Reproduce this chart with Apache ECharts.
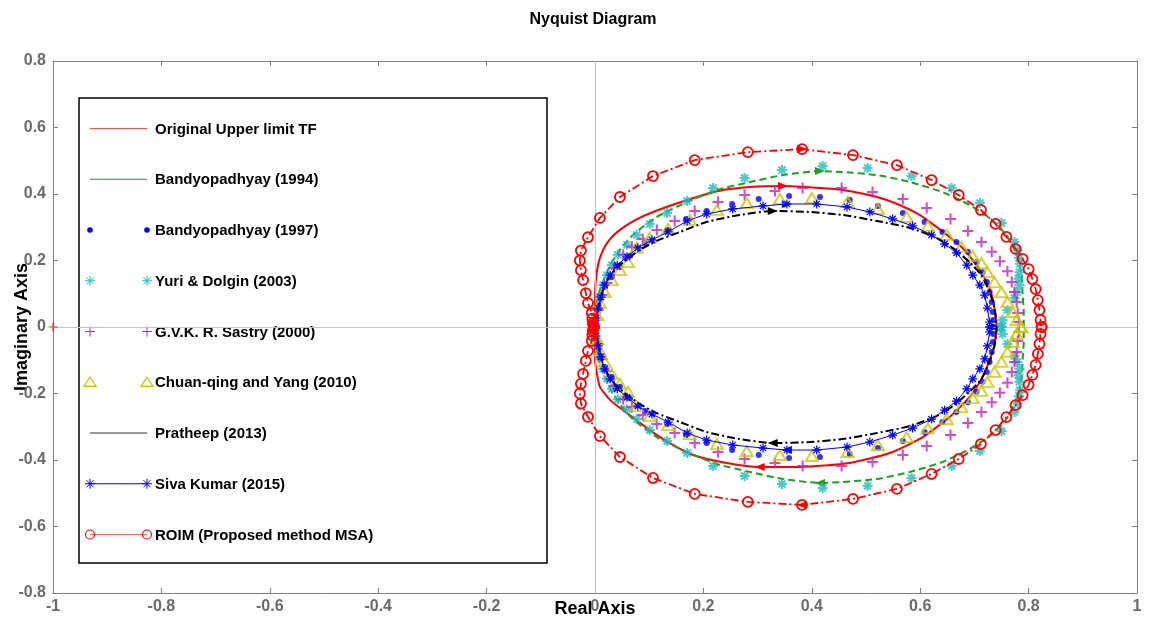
<!DOCTYPE html>
<html>
<head>
<meta charset="utf-8">
<script src="https://cdn.jsdelivr.net/npm/echarts@6/dist/echarts.min.js"></script>
<style>
  html, body { margin: 0; padding: 0; background: #fff; }
  #chart { width: 1151px; height: 628px; }
</style>
</head>
<body>
<div id="chart"></div>
<script>
// Nyquist curves as [real, imag]
// "Upper" = upper half (origin -> DC gain); the lower half is its conjugate
var originalUpper = [[0,0],[0,0.06],[0.001,0.132],[0.006,0.19],[0.015,0.232],[0.028,0.265],[0.046,0.292],[0.075,0.322],[0.107,0.346],[0.17,0.382],[0.23,0.41],[0.286,0.421],[0.347,0.424],[0.415,0.418],[0.457,0.412],[0.52,0.391],[0.562,0.367],[0.599,0.337],[0.63,0.301],[0.654,0.271],[0.678,0.238],[0.704,0.186],[0.723,0.135],[0.732,0.096],[0.737,0.057],[0.741,0]];
var originalLower = [[0,0],[0,-0.054],[0,-0.099],[0.004,-0.144],[0.009,-0.18],[0.028,-0.22],[0.059,-0.259],[0.101,-0.31],[0.138,-0.349],[0.181,-0.385],[0.243,-0.409],[0.304,-0.421],[0.378,-0.421],[0.47,-0.409],[0.544,-0.379],[0.605,-0.331],[0.654,-0.271],[0.691,-0.211],[0.715,-0.15],[0.728,-0.099],[0.737,-0.054],[0.741,0]];
var bandy94Upper = [[0,0],[0,0.036],[0.009,0.111],[0.028,0.186],[0.046,0.232],[0.07,0.277],[0.114,0.331],[0.17,0.376],[0.225,0.412],[0.286,0.436],[0.347,0.457],[0.415,0.469],[0.457,0.466],[0.52,0.457],[0.581,0.436],[0.641,0.406],[0.691,0.367],[0.728,0.328],[0.759,0.277],[0.778,0.217],[0.787,0.156],[0.789,0.096],[0.791,0.045],[0.791,0]];
var bandy97Upper = [[0,0],[0.002,0.027],[0.004,0.051],[0.006,0.072],[0.009,0.09],[0.018,0.12],[0.031,0.15],[0.046,0.18],[0.065,0.214],[0.092,0.253],[0.133,0.292],[0.168,0.325],[0.206,0.349],[0.253,0.37],[0.302,0.385],[0.358,0.394],[0.415,0.391],[0.47,0.382],[0.522,0.364],[0.568,0.343],[0.608,0.316],[0.641,0.286],[0.667,0.256],[0.688,0.226],[0.704,0.195],[0.715,0.165],[0.723,0.135],[0.728,0.105],[0.732,0.075],[0.734,0.045],[0.735,0.021],[0.735,0]];
var yuriUpper = [[0.004,0.051],[0.009,0.09],[0.015,0.126],[0.022,0.156],[0.031,0.186],[0.042,0.217],[0.059,0.247],[0.077,0.277],[0.101,0.31],[0.133,0.343],[0.17,0.379],[0.218,0.418],[0.276,0.448],[0.345,0.472],[0.42,0.484],[0.503,0.478],[0.584,0.454],[0.658,0.418],[0.71,0.373],[0.75,0.313],[0.774,0.256],[0.78,0.23],[0.782,0.208],[0.784,0.19],[0.783,0.165],[0.781,0.145],[0.783,0.126],[0.779,0.105],[0.774,0.087],[0.761,0.051],[0.752,0.021],[0.75,0]];
var sastryUpper = [[0.006,0.051],[0.013,0.096],[0.022,0.132],[0.035,0.177],[0.052,0.217],[0.068,0.241],[0.088,0.265],[0.114,0.292],[0.147,0.319],[0.184,0.349],[0.227,0.376],[0.276,0.397],[0.332,0.409],[0.383,0.418],[0.455,0.418],[0.512,0.406],[0.568,0.385],[0.612,0.358],[0.656,0.325],[0.688,0.289],[0.713,0.256],[0.732,0.226],[0.747,0.198],[0.761,0.168],[0.769,0.135],[0.774,0.105],[0.778,0.075],[0.78,0.042],[0.782,0.015]];
var chuanUpper = [[0.004,0.036],[0.009,0.072],[0.018,0.105],[0.031,0.141],[0.046,0.171],[0.061,0.195],[0.077,0.238],[0.101,0.268],[0.135,0.295],[0.175,0.322],[0.225,0.352],[0.28,0.373],[0.341,0.385],[0.4,0.388],[0.466,0.376],[0.522,0.355],[0.575,0.331],[0.614,0.304],[0.649,0.277],[0.676,0.241],[0.697,0.214],[0.713,0.192],[0.724,0.165],[0.737,0.135],[0.75,0.105],[0.761,0.075],[0.771,0.045],[0.778,0.021],[0.786,0]];
var pratheepUpper = [[0,0],[0.004,0.036],[0.009,0.075],[0.018,0.126],[0.033,0.165],[0.052,0.195],[0.083,0.232],[0.114,0.259],[0.157,0.286],[0.206,0.316],[0.267,0.337],[0.328,0.349],[0.396,0.346],[0.457,0.337],[0.52,0.319],[0.581,0.298],[0.63,0.268],[0.66,0.238],[0.691,0.195],[0.713,0.156],[0.728,0.105],[0.737,0.057],[0.741,0]];
var sivaUpper = [[0,0],[0.002,0.027],[0.006,0.057],[0.011,0.09],[0.018,0.126],[0.028,0.156],[0.041,0.186],[0.059,0.211],[0.079,0.238],[0.105,0.262],[0.135,0.286],[0.17,0.319],[0.206,0.34],[0.254,0.355],[0.31,0.364],[0.354,0.37],[0.409,0.37],[0.465,0.361],[0.507,0.346],[0.549,0.325],[0.586,0.304],[0.621,0.277],[0.645,0.25],[0.667,0.223],[0.686,0.186],[0.697,0.156],[0.71,0.126],[0.719,0.096],[0.724,0.057],[0.728,0.015],[0.728,0]];
var roimUpper = [[-0.002,0],[-0.003,0.006],[-0.004,0.012],[-0.005,0.025],[-0.006,0.042],[-0.013,0.072],[-0.017,0.102],[-0.022,0.141],[-0.026,0.171],[-0.028,0.2],[-0.026,0.23],[-0.013,0.27],[0.009,0.328],[0.046,0.391],[0.107,0.454],[0.184,0.502],[0.282,0.526],[0.382,0.535],[0.476,0.517],[0.557,0.487],[0.621,0.442],[0.671,0.397],[0.712,0.352],[0.739,0.31],[0.759,0.271],[0.776,0.235],[0.789,0.205],[0.8,0.174],[0.807,0.144],[0.813,0.114],[0.817,0.081],[0.82,0.051],[0.822,0.021],[0.824,0]];
var criticalPoint = [[-1, 0]];

var xTicks = { min: -1, max: 1, step: 0.2 };
var yTicks = { min: -0.8, max: 0.8, step: 0.2 };

var names = ['Original Upper limit TF', 'Bandyopadhyay (1994)', 'Bandyopadhyay (1997)',
  'Yuri & Dolgin (2003)', 'G.V.K. R. Sastry (2000)', 'Chuan-qing and Yang (2010)',
  'Pratheep (2013)', 'Siva Kumar (2015)', 'ROIM (Proposed method MSA)'];

// close the loop: upper half, then the conjugate back to the origin
function loop(upper, lower) {
  if (!lower) lower = upper.map(function (p) { return [p[0], -p[1]]; });
  return upper.concat(lower.slice().reverse());
}

// arrows at the top and bottom of a curve
function arrows(upper, lower, color) {
  if (!lower) lower = upper.map(function (p) { return [p[0], -p[1]]; });
  var iu = 0, il = 0;
  upper.forEach(function (p, i) { if (p[1] > upper[iu][1]) iu = i; });
  lower.forEach(function (p, i) { if (p[1] < lower[il][1]) il = i; });
  return {
    symbol: 'triangle', symbolSize: [8, 10], silent: true,
    label: { show: false },
    itemStyle: { color: color },
    data: [
      { coord: upper[iu], symbolRotate: -90 },
      { coord: lower[il], symbolRotate: 90 }
    ]
  };
}

var RED = '#ff0000', GREEN = '#1f9f1f', BLUE = '#0000ff', CYAN = '#1fbdbd',
    MAG = '#c21fc2', YEL = '#c8c800', BLACK = '#000000';
var starPath = 'path://M0,-5L0,5M-5,0L5,0M-3.5,-3.5L3.5,3.5M-3.5,3.5L3.5,-3.5';
var plusPath = 'path://M0,-5L0,5M-5,0L5,0';
var font = 'Liberation Sans, Arial, sans-serif';

var chart = echarts.init(document.getElementById('chart'));

// legend drawn MATLAB-style
var legendEls = [{
  type: 'rect', shape: { x: 79, y: 98, width: 468, height: 465 },
  style: { fill: '#fff', stroke: '#000', lineWidth: 1.5 }
}];
var kinds = [
  { line: '#ff5050' }, { line: GREEN }, { mark: 'dot' }, { mark: 'star', c: CYAN },
  { mark: 'plus', c: MAG }, { mark: 'tri' }, { line: '#333' },
  { line: BLUE, mark: 'star', c: BLUE }, { line: '#ff6060', mark: 'circle' }
];
function legendMarker(kind, x, y) {
  var els = [];
  if (kind.mark === 'dot') {
    els.push({ type: 'circle', shape: { cx: x, cy: y, r: 2.8 }, style: { fill: BLUE } });
  } else if (kind.mark === 'circle') {
    els.push({ type: 'circle', shape: { cx: x, cy: y, r: 4.5 }, style: { fill: 'none', stroke: RED, lineWidth: 1.2 } });
  } else if (kind.mark === 'tri') {
    els.push({ type: 'polygon', shape: { points: [[x, y - 5], [x + 6, y + 4], [x - 6, y + 4]] }, style: { fill: 'none', stroke: YEL, lineWidth: 1.3 } });
  } else if (kind.mark === 'plus' || kind.mark === 'star') {
    var segs = [[0, -5, 0, 5], [-5, 0, 5, 0]];
    if (kind.mark === 'star') segs.push([-3.5, -3.5, 3.5, 3.5], [-3.5, 3.5, 3.5, -3.5]);
    segs.forEach(function (s) {
      els.push({ type: 'line', shape: { x1: x + s[0], y1: y + s[1], x2: x + s[2], y2: y + s[3] }, style: { stroke: kind.c, lineWidth: 1 } });
    });
  }
  return els;
}
names.forEach(function (n, i) {
  var y = 128.5 + i * 50.75;
  var k = kinds[i];
  if (k.line) legendEls.push({ type: 'line', shape: { x1: 90, y1: y, x2: 147, y2: y }, style: { stroke: k.line, lineWidth: 1 } });
  if (k.mark) legendEls = legendEls.concat(legendMarker(k, 90, y), legendMarker(k, 147, y));
  legendEls.push({ type: 'text', x: 155, y: y + 1, style: { text: n, font: 'bold 15px ' + font, fill: '#000', textVerticalAlign: 'middle' } });
});

var axisGray = '#808080';
function xAxisOf(pos, labels) {
  return {
    type: 'value', position: pos, min: xTicks.min, max: xTicks.max, interval: xTicks.step,
    axisLine: { onZero: false, lineStyle: { color: axisGray, width: 1 } },
    axisTick: { inside: true, length: 5, lineStyle: { color: axisGray } },
    axisLabel: { show: labels, color: '#6b6b6b', fontWeight: 'bold', fontSize: 16, fontFamily: font, margin: 6 },
    splitLine: { show: false },
    name: labels ? 'Real Axis' : '', nameLocation: 'middle', nameGap: 7, nameMoveOverlap: false,
    nameTextStyle: { color: '#000', fontWeight: 'bold', fontSize: 18, fontFamily: font, verticalAlign: 'top' }
  };
}
function yAxisOf(pos, labels) {
  return {
    type: 'value', position: pos, min: yTicks.min, max: yTicks.max, interval: yTicks.step,
    axisLine: { onZero: false, lineStyle: { color: axisGray, width: 1 } },
    axisTick: { inside: true, length: 5, lineStyle: { color: axisGray } },
    axisLabel: { show: labels, color: '#6b6b6b', fontWeight: 'bold', fontSize: 16, fontFamily: font, margin: 7 },
    splitLine: { show: false },
    name: labels ? 'Imaginary Axis' : '', nameLocation: 'middle', nameGap: 22, nameRotate: 90, nameMoveOverlap: false,
    nameTextStyle: { color: '#000', fontWeight: 'bold', fontSize: 18, fontFamily: font }
  };
}

var option = {
  animation: false,
  backgroundColor: '#fff',
  title: {
    text: 'Nyquist Diagram', left: 588, top: 7, textAlign: 'center',
    textStyle: { fontSize: 16, fontWeight: 'bold', color: '#000', fontFamily: font }
  },
  grid: { left: 53, right: 14, top: 61, bottom: 35, containLabel: false, outerBoundsMode: 'none' },
  xAxis: [xAxisOf('bottom', true), xAxisOf('top', false)],
  yAxis: [yAxisOf('left', true), yAxisOf('right', false)],
  graphic: { elements: [{ type: 'group', z: 100, children: legendEls }] },
  series: [
    {
      name: names[0], type: 'line', data: loop(originalUpper, originalLower),
      showSymbol: false, smooth: 0.2, z: 2,
      lineStyle: { color: RED, width: 2 },
      markPoint: arrows(originalUpper, originalLower, RED),
      markLine: {
        silent: true, symbol: 'none', label: { show: false },
        lineStyle: { color: '#c4c4c4', width: 1, type: 'solid' },
        data: [{ xAxis: 0 }, { yAxis: 0 }]
      }
    },
    {
      name: names[1], type: 'line', data: loop(bandy94Upper), showSymbol: false, smooth: 0.2, z: 3,
      lineStyle: { color: GREEN, width: 2, type: [7, 4] },
      markPoint: arrows(bandy94Upper, null, GREEN)
    },
    {
      name: names[2], type: 'scatter', data: loop(bandy97Upper), symbol: 'circle', symbolSize: 6, z: 4,
      itemStyle: { color: BLUE }
    },
    {
      name: names[3], type: 'scatter', data: loop(yuriUpper), symbol: starPath, symbolSize: 10, z: 5,
      itemStyle: { color: 'none', borderColor: CYAN, borderWidth: 2 }
    },
    {
      name: names[4], type: 'scatter', data: loop(sastryUpper), symbol: plusPath, symbolSize: 11, z: 6,
      itemStyle: { color: 'none', borderColor: MAG, borderWidth: 2 }
    },
    {
      name: names[5], type: 'scatter', data: loop(chuanUpper), symbol: 'triangle', symbolSize: [12, 10], z: 7,
      itemStyle: { color: 'none', borderColor: YEL, borderWidth: 2 }
    },
    {
      name: names[6], type: 'line', data: loop(pratheepUpper), showSymbol: false, smooth: 0.2, z: 8,
      lineStyle: { color: BLACK, width: 2, type: [8, 3, 2, 3] },
      markPoint: arrows(pratheepUpper, null, BLACK)
    },
    {
      name: names[7], type: 'line', data: loop(sivaUpper), symbol: starPath, symbolSize: 9, showAllSymbol: true, z: 9,
      lineStyle: { color: BLUE, width: 1 },
      itemStyle: { color: 'none', borderColor: BLUE, borderWidth: 1.2 },
      markPoint: arrows(sivaUpper, null, BLUE)
    },
    {
      name: names[8], type: 'line', data: loop(roimUpper), symbol: 'circle', symbolSize: 10, showAllSymbol: true, z: 10,
      lineStyle: { color: RED, width: 1.8, type: [8, 3, 2, 3] },
      itemStyle: { color: 'none', borderColor: RED, borderWidth: 1.8 },
      markPoint: arrows(roimUpper, null, RED)
    },
    {
      name: 'critical', type: 'scatter', data: criticalPoint, symbol: plusPath, symbolSize: 9, z: 11,
      itemStyle: { color: 'none', borderColor: RED, borderWidth: 1.2 }
    }
  ]
};

chart.setOption(option);
window.addEventListener('resize', function () { chart.resize(); });
</script>
</body>
</html>
